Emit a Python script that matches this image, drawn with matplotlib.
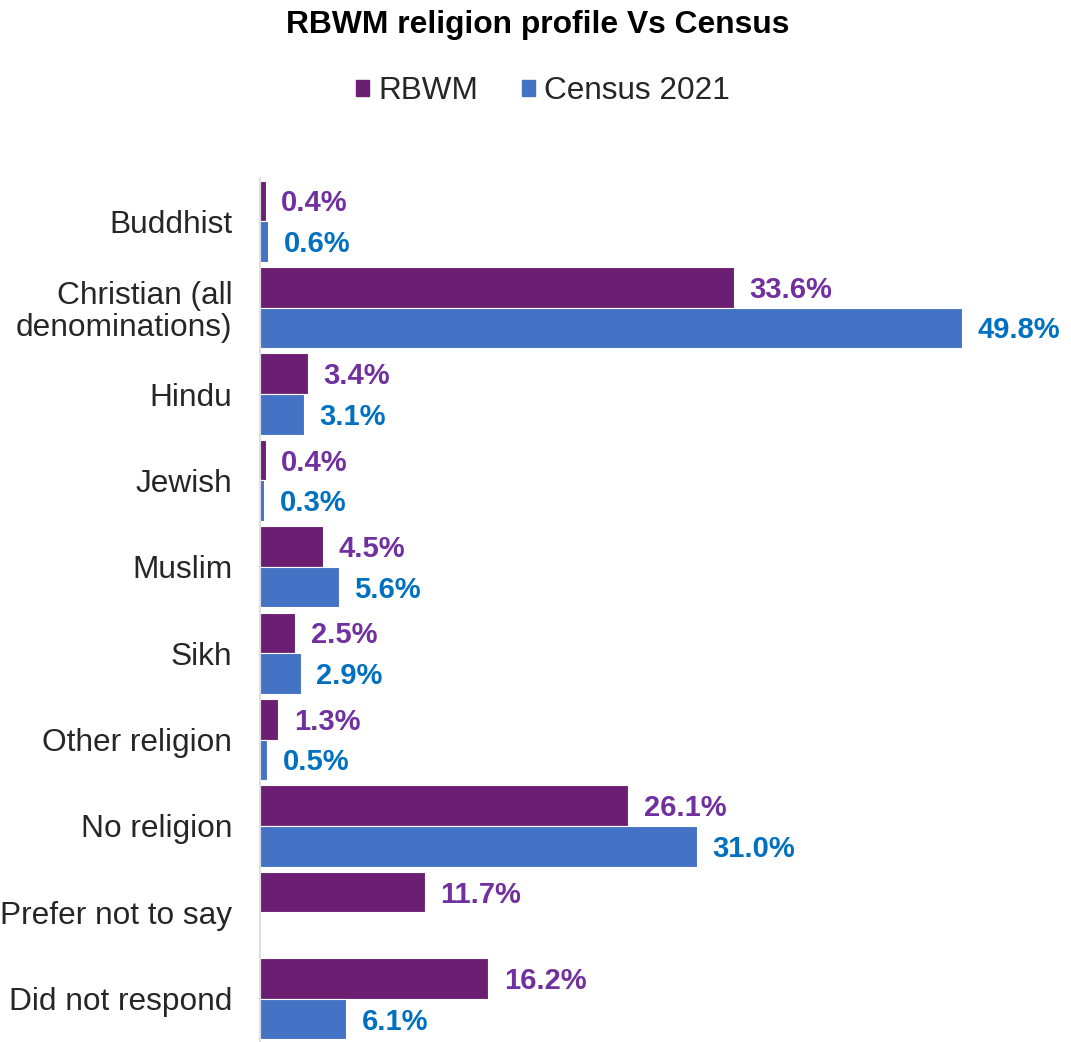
import matplotlib
matplotlib.use("Agg")
import matplotlib.pyplot as plt
import numpy as np
from matplotlib.patches import Patch

plt.rcParams['font.family'] = ['Liberation Sans', 'DejaVu Sans']

categories = ["Buddhist", "Christian (all\ndenominations)", "Hindu", "Jewish", "Muslim",
              "Sikh", "Other religion", "No religion", "Prefer not to say", "Did not respond"]
rbwm = [0.4, 33.6, 3.4, 0.4, 4.5, 2.5, 1.3, 26.1, 11.7, 16.2]
census = [0.6, 49.8, 3.1, 0.3, 5.6, 2.9, 0.5, 31.0, None, 6.1]

c_rbwm = "#6B1F73"
c_census = "#4472C4"
t_rbwm = "#7030A0"
t_census = "#0070C0"

fig = plt.figure(figsize=(10.71, 10.42), dpi=100)
ax = fig.add_axes([260/1071, 0.0, (1071-260)/1071, (1042-178)/1042])

y = np.arange(len(categories))
h = 0.47
off = 0.235
for i, v in enumerate(rbwm):
    ax.barh(y[i] - off, v, height=h, color=c_rbwm, edgecolor="white", linewidth=0.8)
    ax.text(v + 1.1, y[i] - off + 0.03, f"{v:.1f}%", va="center", ha="left",
            fontsize=21, fontweight="bold", color=t_rbwm)
for i, v in enumerate(census):
    if v is None:
        continue
    ax.barh(y[i] + off, v, height=h, color=c_census, edgecolor="white", linewidth=0.8)
    ax.text(v + 1.1, y[i] + off + 0.03, f"{v:.1f}%", va="center", ha="left",
            fontsize=21, fontweight="bold", color=t_census)

ax.set_ylim(9.5, -0.5)
ax.set_xlim(0, 57.5)
ax.set_yticks(y)
ax.set_yticklabels(categories, fontsize=22.8, color="#262626", linespacing=1.1)
ax.tick_params(axis="y", length=0, pad=20)
ax.set_xticks([])
for s in ["top", "right", "bottom"]:
    ax.spines[s].set_visible(False)
ax.spines["left"].set_color("#D9D9D9")
ax.spines["left"].set_linewidth(1.2)

fig.text(538/1071, 1 - 25/1042, "RBWM religion profile Vs Census", ha="center", va="center",
         fontsize=22.9, fontweight="bold", color="#000000")
handles = [Patch(color=c_rbwm, label="RBWM"), Patch(color=c_census, label="Census 2021")]
fig.legend(handles=handles, loc="center", bbox_to_anchor=(543/1071, 1 - 91/1042), ncol=2,
           frameon=False, fontsize=22.7, handlelength=0.4, handleheight=0.4,
           handletextpad=0.3, columnspacing=1.4, labelcolor="#262626")

fig.savefig("out.png", dpi=100)
